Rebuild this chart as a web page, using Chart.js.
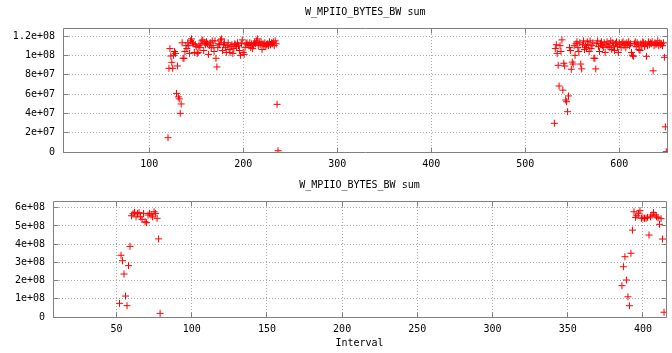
<!DOCTYPE html>
<html><head><meta charset="utf-8">
<script src="https://cdn.jsdelivr.net/npm/chart.js@4.4.0/dist/chart.umd.min.js"></script>
<style>
html,body{margin:0;padding:0;background:#fff;}
#w1{position:absolute;left:0;top:0;width:672px;height:170px;}
#w2{position:absolute;left:0;top:170px;width:672px;height:183px;}
</style></head><body>
<div id="w1"><canvas id="c1"></canvas></div>
<div id="w2"><canvas id="c2"></canvas></div>
<script>
const chartTitle = 'W_MPIIO_BYTES_BW sum';
const xAxisTitle = 'Interval';

const topXTicks = [100, 200, 300, 400, 500, 600];
const topYTicks = [0, 2e7, 4e7, 6e7, 8e7, 1e8, 1.2e8];
const topYTickLabels = ['0', '2e+07', '4e+07', '6e+07', '8e+07', '1e+08', '1.2e+08'];
const topXRange = [8.3, 651.3];
const topYRange = [0, 1.283e8];

const botXTicks = [50, 100, 150, 200, 250, 300, 350, 400];
const botYTicks = [0, 1e8, 2e8, 3e8, 4e8, 5e8, 6e8];
const botYTickLabels = ['0', '1e+08', '2e+08', '3e+08', '4e+08', '5e+08', '6e+08'];
const botXRange = [7.8, 415.3];
const botYRange = [0, 6.37e8];

const topInterval = [
  120,121,122,123,124,125,126,127,128,129,
  130,131,132,133,134,135,136,137,138,139,
  140,141,142,143,144,145,146,147,148,149,
  150,151,152,153,154,155,156,157,158,159,
  160,161,162,163,164,165,166,167,168,169,
  170,171,172,173,174,175,176,177,178,179,
  180,181,182,183,184,185,186,187,188,189,
  190,191,192,193,194,195,196,197,198,199,
  200,201,202,203,204,205,206,207,208,209,
  210,211,212,213,214,215,216,217,218,219,
  220,221,222,223,224,225,226,227,228,229,
  230,231,232,233,234,235,236,237,
  531,532,533,534,535,536,537,538,539,540,
  541,542,543,544,545,546,547,548,549,550,
  551,552,553,554,555,556,557,558,559,560,
  561,562,563,564,565,566,567,568,569,570,
  571,572,573,574,575,576,577,578,579,580,
  581,582,583,584,585,586,587,588,589,590,
  591,592,593,594,595,596,597,598,599,600,
  601,602,603,604,605,606,607,608,609,610,
  611,612,613,614,615,616,617,618,619,620,
  621,622,623,624,625,626,627,628,629,630,
  631,632,633,634,635,636,637,638,639,640,
  641,642,643,644,645,646,647,648,649,650
];
const topBw = [
  14.8e6,86.6e6,107e6,99.3e6,92.8e6,86.6e6,100e6,104e6,102e6,60.7e6,
  89e6,57e6,55e6,40e6,49.7e6,113e6,97e6,97e6,104e6,110e6,
  107e6,113e6,110e6,102e6,115e6,117e6,113e6,112e6,103e6,111e6,
  109e6,102e6,103e6,110e6,108e6,112e6,115e6,116e6,105e6,113e6,
  111e6,114e6,112e6,101e6,110e6,113e6,108e6,115e6,110e6,104e6,
  115e6,97e6,88e6,108e6,112e6,111e6,116e6,117e6,105e6,111e6,
  113e6,108e6,103e6,110e6,113e6,106e6,103e6,109e6,111e6,102e6,
  107e6,112e6,111e6,109e6,113e6,110e6,105e6,100e6,112e6,116e6,
  103e6,101e6,108e6,112e6,113e6,111e6,110e6,113e6,108e6,112e6,
  107e6,111e6,113e6,112e6,115e6,117e6,110e6,113e6,111e6,114e6,
  106e6,112e6,110e6,113e6,109e6,111e6,112e6,110e6,114e6,111e6,
  113e6,112e6,114e6,110e6,115e6,112e6,49.3e6,1.3e6,
  29.7e6,107e6,111e6,102e6,89.7e6,68.3e6,110e6,104e6,116e6,64e6,
  91.8e6,89e6,53.8e6,52e6,41.7e6,58e6,108e6,105e6,85.6e6,93e6,
  91e6,110e6,100e6,112e6,114e6,108e6,104e6,113e6,91e6,86e6,
  111e6,115e6,106e6,110e6,108e6,114e6,111e6,104e6,115e6,107e6,
  110e6,113e6,97e6,97e6,86e6,112e6,115e6,109e6,104e6,112e6,
  114e6,110e6,108e6,113e6,103e6,111e6,114e6,109e6,112e6,108e6,
  115e6,106e6,113e6,110e6,105e6,112e6,114e6,109e6,103e6,113e6,
  111e6,108e6,113e6,114e6,110e6,112e6,108e6,113e6,111e6,114e6,
  110e6,112e6,103e6,100e6,99e6,112e6,114e6,109e6,113e6,111e6,
  106e6,105e6,112e6,110e6,114e6,113e6,109e6,112e6,99e6,110e6,
  114e6,111e6,113e6,112e6,114e6,84e6,110e6,113e6,111e6,112e6,
  115e6,110e6,113e6,111e6,112e6,110e6,113e6,98e6,26e6,0.3e6
];

const botInterval = [
  52,53,54,55,56,57,58,59,60,61,
  62,63,64,65,66,67,68,69,70,71,
  72,73,74,75,76,77,78,79,
  386,387,388,389,390,391,392,393,394,395,
  396,397,398,399,400,401,402,403,404,405,
  406,407,408,409,410,411,412,413,414
];
const botBw = [
  0.75e8,3.39e8,3.09e8,2.36e8,1.15e8,0.62e8,2.82e8,3.88e8,5.56e8,5.67e8,
  5.75e8,5.50e8,5.69e8,5.73e8,5.50e8,5.36e8,5.69e8,5.23e8,5.18e8,5.60e8,
  5.69e8,5.60e8,5.50e8,5.78e8,5.69e8,5.42e8,4.29e8,0.20e8,
  1.72e8,2.76e8,3.31e8,2.03e8,1.11e8,0.62e8,3.50e8,4.77e8,5.78e8,5.47e8,
  5.56e8,5.70e8,5.84e8,5.42e8,5.45e8,5.42e8,5.42e8,5.47e8,4.50e8,5.50e8,
  5.60e8,5.73e8,5.60e8,5.50e8,5.45e8,5.09e8,5.40e8,4.28e8,0.26e8
];

const FONT = "'DejaVu Sans Mono', monospace";
const tickFont = {family: FONT, size: 10, weight: 'normal'};

function setTicks(values) {
  return function (scale) { scale.ticks = values.map(v => ({value: v})); };
}
function labelFrom(values, labels) {
  return function (v) { const i = values.indexOf(v); return i >= 0 ? labels[i] : ''; };
}
function align(p) { return Math.round(p - 0.5) + 0.5; }

const framePlugin = {
  id: 'frame',
  beforeDatasetsDraw(chart) {
    const ctx = chart.ctx, a = chart.chartArea;
    const xs = chart.scales.x, ys = chart.scales.y;
    const L = align(a.left), R = align(a.right), T = align(a.top), B = align(a.bottom);
    const tl = 5;
    ctx.save();
    ctx.strokeStyle = '#808080';
    ctx.lineWidth = 1;
    ctx.beginPath();
    ctx.rect(L, T, R - L, B - T);
    xs.ticks.forEach(t => {
      const px = align(xs.getPixelForValue(t.value));
      ctx.moveTo(px, B); ctx.lineTo(px, B - tl);
      ctx.moveTo(px, T); ctx.lineTo(px, T + tl);
    });
    ys.ticks.forEach(t => {
      const py = align(ys.getPixelForValue(t.value));
      ctx.moveTo(L, py); ctx.lineTo(L + tl, py);
      ctx.moveTo(R, py); ctx.lineTo(R - tl, py);
    });
    ctx.stroke();
    ctx.restore();
  }
};

function build(id, o) {
  return new Chart(document.getElementById(id), {
    type: 'scatter',
    data: {datasets: [{
      data: o.xs.map((x, i) => ({x: x, y: o.ys[i]})),
      pointStyle: 'cross', pointRadius: 3.5, pointHoverRadius: 3.5,
      borderColor: '#ff0000', backgroundColor: '#ff0000', borderWidth: 1
    }]},
    options: {
      responsive: true, maintainAspectRatio: false, animation: false, events: [],
      layout: {padding: {left: 0, right: o.padRight, top: 0, bottom: 0}},
      plugins: {
        legend: {display: false}, tooltip: {enabled: false},
        title: {display: true, text: chartTitle, fullSize: false, color: '#000',
          font: tickFont, padding: {top: o.titleTop, bottom: o.titleBottom}}
      },
      scales: {
        x: {
          type: 'linear', min: o.xRange[0], max: o.xRange[1],
          afterBuildTicks: setTicks(o.xTicks),
          afterFit: s => { s.height = o.xH; },
          grid: {color: '#a8a8a8', drawTicks: false},
          border: {display: false, dash: [1, 2]},
          ticks: {color: '#000', font: tickFont, padding: 6, maxRotation: 0, autoSkip: false},
          title: o.xTitle ? {display: true, text: o.xTitle, color: '#000', font: tickFont,
            padding: {top: 0, bottom: 4}} : {display: false}
        },
        y: {
          type: 'linear', min: o.yRange[0], max: o.yRange[1],
          afterBuildTicks: setTicks(o.yTicks),
          afterFit: s => { s.width = o.yW; },
          grid: {color: '#a8a8a8', drawTicks: false},
          border: {display: false, dash: [1, 2]},
          ticks: {color: '#000', font: tickFont, padding: 8, autoSkip: false,
            callback: labelFrom(o.yTicks, o.yLabels)}
        }
      }
    },
    plugins: [framePlugin]
  });
}

build('c1', {xs: topInterval, ys: topBw, xRange: topXRange, yRange: topYRange,
  xTicks: topXTicks, yTicks: topYTicks, yLabels: topYTickLabels,
  padRight: 4, titleTop: 6, titleBottom: 10, xH: 18, yW: 63, xTitle: null});
build('c2', {xs: botInterval, ys: botBw, xRange: botXRange, yRange: botYRange,
  xTicks: botXTicks, yTicks: botYTicks, yLabels: botYTickLabels,
  padRight: 6, titleTop: 9, titleBottom: 10, xH: 36, yW: 53, xTitle: xAxisTitle});
</script>
</body></html>
